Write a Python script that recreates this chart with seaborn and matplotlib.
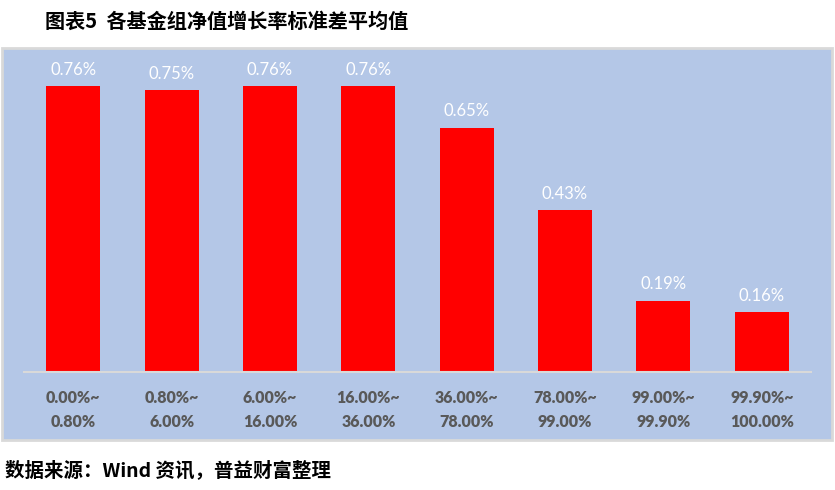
import matplotlib
matplotlib.use("Agg")
import matplotlib.pyplot as plt
import seaborn as sns
import pandas as pd
from matplotlib.patches import Rectangle

categories = ["0.00%~\n0.80%", "0.80%~\n6.00%", "6.00%~\n16.00%", "16.00%~\n36.00%",
              "36.00%~\n78.00%", "78.00%~\n99.00%", "99.00%~\n99.90%", "99.90%~\n100.00%"]
values = [0.76, 0.75, 0.76, 0.76, 0.65, 0.43, 0.19, 0.16]
title = "图表5  各基金组净值增长率标准差平均值"
source = "数据来源：Wind 资讯，普益财富整理"

sns.set_theme(style="white")
plt.rcParams['font.family'] = ['Noto Sans CJK SC', 'DejaVu Sans']

W, H = 835, 490
fig = plt.figure(figsize=(W / 100, H / 100), dpi=100)

# plot area background box
fig.patches.append(Rectangle((2 / W, 1 - 440 / H), 830 / W, 392 / H,
                             transform=fig.transFigure, facecolor="#B4C7E7",
                             edgecolor="#D9D9D9", linewidth=2, zorder=-1))

ymax = 0.85
px_per_unit = 376
ax_h = ymax * px_per_unit
ax = fig.add_axes([24 / W, (H - 372) / H, 787 / W, ax_h / H])
ax.set_zorder(2)
ax.patch.set_alpha(0)

df = pd.DataFrame({"cat": categories, "val": values})
sns.barplot(data=df, x="cat", y="val", color="#FF0000", saturation=1, width=0.55,
            linewidth=0, edgecolor="none", ax=ax)
ax.set_ylim(0, ymax)
ax.set_xlim(-0.5, len(categories) - 0.5)
for c in ax.containers:
    ax.bar_label(c, labels=[f"{v:.2f}%" for v in values], padding=6,
                 color="white", fontsize=12, family=["Lato", "DejaVu Sans"])

for s in ["top", "right", "left"]:
    ax.spines[s].set_visible(False)
ax.spines["bottom"].set_color("#D9D9D9")
ax.spines["bottom"].set_linewidth(1.5)
ax.set_yticks([])
ax.set_xlabel("")
ax.set_ylabel("")
ax.tick_params(axis="x", length=0, pad=13)
ax.set_xticks(range(len(categories)))
ax.set_xticklabels(categories, fontsize=11.5, fontweight="heavy", color="#595959",
                   family=["Lato", "DejaVu Sans"], linespacing=1.62)

fig.text(45 / W, 1 - 21 / H, title, fontsize=14.5, fontweight="bold", color="black",
         va="center", ha="left")
fig.text(5 / W, 1 - 470 / H, source, fontsize=14, fontweight="bold", color="black",
         va="center", ha="left")

fig.savefig("out.png", dpi=100)
